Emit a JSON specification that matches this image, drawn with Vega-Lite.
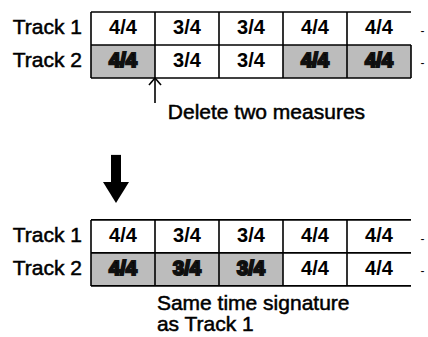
{
  "$schema": "https://vega.github.io/schema/vega-lite/v6.json",
  "width": 428,
  "height": 337,
  "autosize": {"type": "none"},
  "padding": 0,
  "background": "white",
  "config": {"view": {"stroke": null}, "text": {"font": "Liberation Sans"}},
  "datasets": {
    "cells": [
      {"grid": "before", "track": "Track 1", "measure": 1, "lane": 0, "sig": "4/4", "shade": "plain"},
      {"grid": "before", "track": "Track 1", "measure": 2, "lane": 0, "sig": "3/4", "shade": "plain"},
      {"grid": "before", "track": "Track 1", "measure": 3, "lane": 0, "sig": "3/4", "shade": "plain"},
      {"grid": "before", "track": "Track 1", "measure": 4, "lane": 0, "sig": "4/4", "shade": "plain"},
      {"grid": "before", "track": "Track 1", "measure": 5, "lane": 0, "sig": "4/4", "shade": "plain"},
      {"grid": "before", "track": "Track 2", "measure": 1, "lane": 1, "sig": "4/4", "shade": "grey"},
      {"grid": "before", "track": "Track 2", "measure": 2, "lane": 1, "sig": "3/4", "shade": "plain"},
      {"grid": "before", "track": "Track 2", "measure": 3, "lane": 1, "sig": "3/4", "shade": "plain"},
      {"grid": "before", "track": "Track 2", "measure": 4, "lane": 1, "sig": "4/4", "shade": "grey"},
      {"grid": "before", "track": "Track 2", "measure": 5, "lane": 1, "sig": "4/4", "shade": "grey"},
      {"grid": "after", "track": "Track 1", "measure": 1, "lane": 6.3, "sig": "4/4", "shade": "plain"},
      {"grid": "after", "track": "Track 1", "measure": 2, "lane": 6.3, "sig": "3/4", "shade": "plain"},
      {"grid": "after", "track": "Track 1", "measure": 3, "lane": 6.3, "sig": "3/4", "shade": "plain"},
      {"grid": "after", "track": "Track 1", "measure": 4, "lane": 6.3, "sig": "4/4", "shade": "plain"},
      {"grid": "after", "track": "Track 1", "measure": 5, "lane": 6.3, "sig": "4/4", "shade": "plain"},
      {"grid": "after", "track": "Track 2", "measure": 1, "lane": 7.3, "sig": "4/4", "shade": "grey"},
      {"grid": "after", "track": "Track 2", "measure": 2, "lane": 7.3, "sig": "3/4", "shade": "grey"},
      {"grid": "after", "track": "Track 2", "measure": 3, "lane": 7.3, "sig": "3/4", "shade": "grey"},
      {"grid": "after", "track": "Track 2", "measure": 4, "lane": 7.3, "sig": "4/4", "shade": "plain"},
      {"grid": "after", "track": "Track 2", "measure": 5, "lane": 7.3, "sig": "4/4", "shade": "plain"}
    ],
    "lines": [
      {"m0": 0.5, "m1": 5.5, "l0": -0.5, "l1": -0.5},
      {"m0": 0.5, "m1": 5.5, "l0": 0.5, "l1": 0.5},
      {"m0": 0.5, "m1": 5.5, "l0": 1.5, "l1": 1.5},
      {"m0": 0.5, "m1": 0.5, "l0": -0.5, "l1": 1.5},
      {"m0": 1.5, "m1": 1.5, "l0": -0.5, "l1": 1.5},
      {"m0": 2.5, "m1": 2.5, "l0": -0.5, "l1": 1.5},
      {"m0": 3.5, "m1": 3.5, "l0": -0.5, "l1": 1.5},
      {"m0": 4.5, "m1": 4.5, "l0": -0.5, "l1": 1.5},
      {"m0": 5.5, "m1": 5.5, "l0": 0.5, "l1": 1.5},
      {"m0": 0.5, "m1": 5.5, "l0": 5.8, "l1": 5.8},
      {"m0": 0.5, "m1": 5.5, "l0": 6.8, "l1": 6.8},
      {"m0": 0.5, "m1": 5.5, "l0": 7.8, "l1": 7.8},
      {"m0": 0.5, "m1": 0.5, "l0": 5.8, "l1": 7.8},
      {"m0": 1.5, "m1": 1.5, "l0": 5.8, "l1": 7.8},
      {"m0": 2.5, "m1": 2.5, "l0": 5.8, "l1": 7.8},
      {"m0": 3.5, "m1": 3.5, "l0": 5.8, "l1": 7.8},
      {"m0": 4.5, "m1": 4.5, "l0": 5.8, "l1": 7.8},
      {"m0": 1.5, "m1": 1.5, "l0": 1.5, "l1": 2.26},
      {"m0": 1.5, "m1": 1.406, "l0": 1.5, "l1": 1.71},
      {"m0": 1.5, "m1": 1.594, "l0": 1.5, "l1": 1.71}
    ],
    "labels": [
      {"m": 0.36, "l": 0, "label": "Track 1"},
      {"m": 0.36, "l": 1, "label": "Track 2"},
      {"m": 0.36, "l": 6.3, "label": "Track 1"},
      {"m": 0.36, "l": 7.3, "label": "Track 2"}
    ],
    "notes": [
      {"m": 1.70, "l": 2.23, "label": "Delete two measures"},
      {"m": 1.53, "l": 8.02, "label": "Same time signature\nas Track 1"}
    ],
    "ticks": [
      {"m": 5.68, "l": 0.08},
      {"m": 5.68, "l": 1.05},
      {"m": 5.68, "l": 6.38},
      {"m": 5.68, "l": 7.35}
    ],
    "shaft": [
      {"m": 0.8906, "l0": 3.83, "l1": 4.66}
    ],
    "head": [
      {"m": 0.6875, "l0": 4.65, "l1": 4.65},
      {"m": 0.8906, "l0": 4.65, "l1": 5.29},
      {"m": 1.0938, "l0": 4.65, "l1": 4.65}
    ]
  },
  "layer": [
    {
      "data": {"name": "cells"},
      "mark": {"type": "rect", "width": 64, "height": 33},
      "encoding": {
        "x": {"field": "measure", "type": "quantitative", "axis": null, "scale": {"domain": [-0.921875, 5.765625], "nice": false, "zero": false}},
        "y": {"field": "lane", "type": "quantitative", "axis": null, "scale": {"domain": [-0.8636, 9.3485], "nice": false, "zero": false, "reverse": true}},
        "fill": {"field": "shade", "type": "nominal", "legend": null, "scale": {"domain": ["plain", "grey"], "range": ["#ffffff", "#bcbcbc"]}}
      }
    },
    {
      "data": {"name": "cells"},
      "mark": {"type": "text", "fontSize": 20, "fontWeight": "bold", "baseline": "middle", "align": "center"},
      "encoding": {
        "x": {"field": "measure", "type": "quantitative"},
        "y": {"field": "lane", "type": "quantitative"},
        "text": {"field": "sig"},
        "stroke": {"field": "shade", "type": "nominal", "legend": null, "scale": {"domain": ["plain", "grey"], "range": ["transparent", "#111111"]}},
        "strokeWidth": {"value": 2.2},
        "color": {"value": "black"}
      }
    },
    {
      "data": {"name": "lines"},
      "mark": {"type": "rule", "color": "black", "strokeWidth": 1.6},
      "encoding": {
        "x": {"field": "m0", "type": "quantitative"},
        "x2": {"field": "m1"},
        "y": {"field": "l0", "type": "quantitative"},
        "y2": {"field": "l1"}
      }
    },
    {
      "data": {"name": "labels"},
      "mark": {"type": "text", "fontSize": 21, "align": "right", "baseline": "middle", "color": "black", "stroke": "black", "strokeWidth": 0.5},
      "encoding": {
        "x": {"field": "m", "type": "quantitative"},
        "y": {"field": "l", "type": "quantitative"},
        "text": {"field": "label"}
      }
    },
    {
      "data": {"name": "notes"},
      "mark": {"type": "text", "fontSize": 21, "align": "left", "baseline": "top", "lineBreak": "\n", "lineHeight": 21, "color": "black", "stroke": "black", "strokeWidth": 0.5},
      "encoding": {
        "x": {"field": "m", "type": "quantitative"},
        "y": {"field": "l", "type": "quantitative"},
        "text": {"field": "label"}
      }
    },
    {
      "data": {"name": "ticks"},
      "mark": {"type": "text", "fontSize": 12, "align": "center", "baseline": "middle", "color": "black", "text": "-"},
      "encoding": {
        "x": {"field": "m", "type": "quantitative"},
        "y": {"field": "l", "type": "quantitative"}
      }
    },
    {
      "data": {"name": "shaft"},
      "mark": {"type": "rule", "color": "black", "strokeWidth": 10},
      "encoding": {
        "x": {"field": "m", "type": "quantitative"},
        "y": {"field": "l0", "type": "quantitative"},
        "y2": {"field": "l1"}
      }
    },
    {
      "data": {"name": "head"},
      "mark": {"type": "area", "color": "black", "orient": "vertical"},
      "encoding": {
        "x": {"field": "m", "type": "quantitative"},
        "y": {"field": "l0", "type": "quantitative"},
        "y2": {"field": "l1"}
      }
    }
  ]
}
